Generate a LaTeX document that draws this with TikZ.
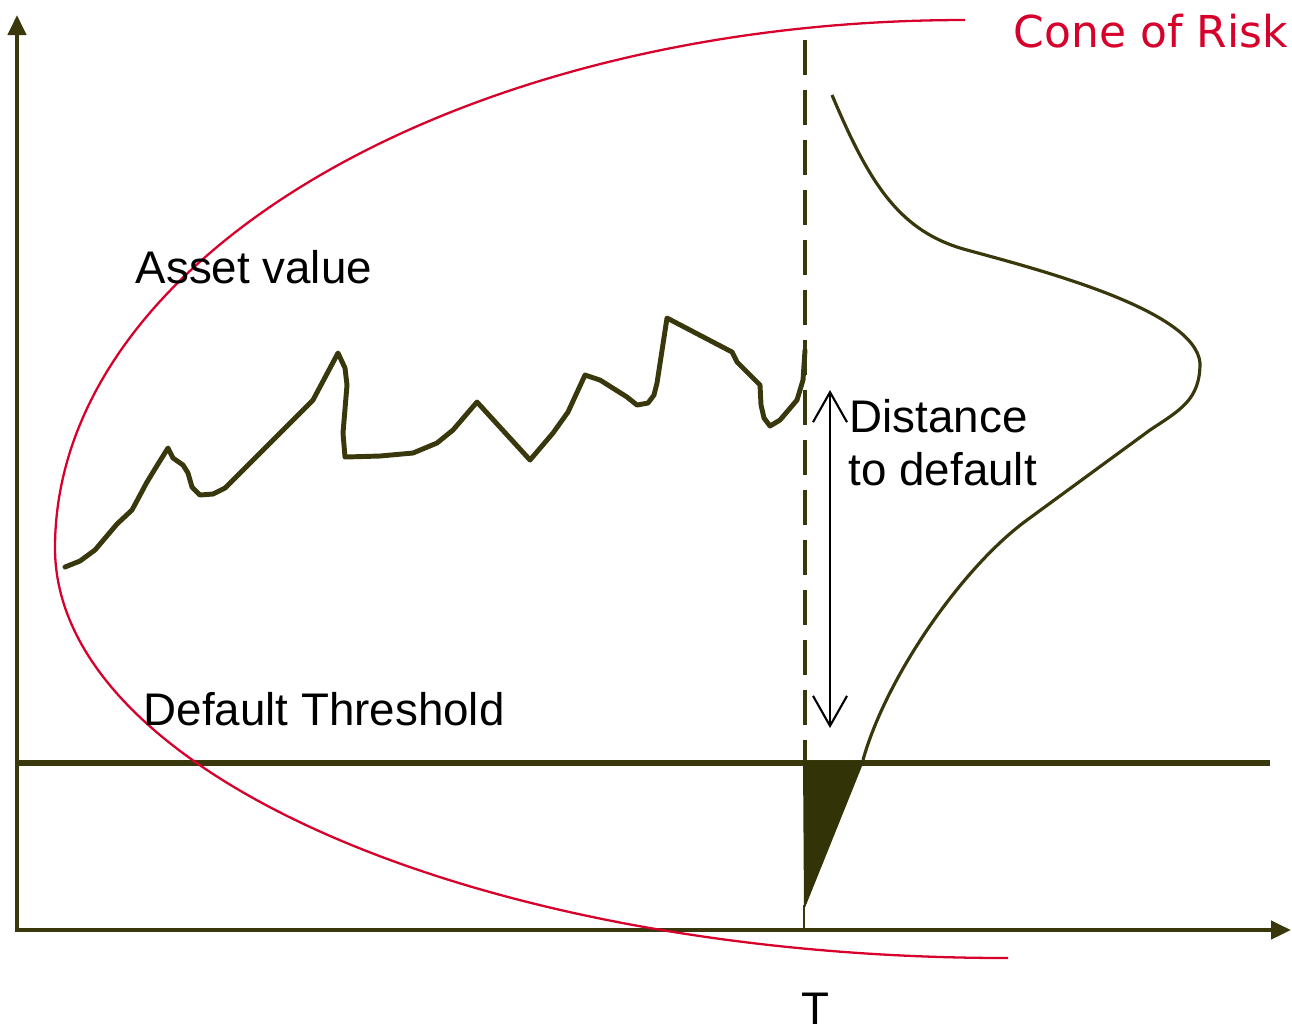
\documentclass[tikz,border=0pt]{standalone}
\usepackage{fontspec}
\setmainfont{Liberation Sans}
\newfontfamily\conefont{DejaVu Sans}
\usetikzlibrary{arrows.meta,positioning}
\definecolor{cOlive}{HTML}{38380C}
\definecolor{cDark}{HTML}{333308}
\definecolor{cRed}{HTML}{D6002B}
\tikzset{
  axisline/.style={{Triangle[length=0.2cm,width=0.18cm]}-{Triangle[length=0.2cm,width=0.18cm]},line width=1.2pt,color=cOlive,line join=miter},
  thresh/.style={line width=1.45pt,color=cOlive},
  vdash/.style={line width=1.2pt,color=cOlive,dash pattern=on 0.35cm off 0.15cm},
  pathline/.style={line width=1.4pt,color=cOlive,line join=round,line cap=round},
  dens/.style={line width=0.9pt,color=cOlive},
  cone/.style={line width=0.65pt,color=cRed},
  dtd/.style={{Straight Barb[length=0.3cm,width=0.34cm]}-{Straight Barb[length=0.3cm,width=0.34cm]},line width=0.6pt,color=black},
  lbl/.style={font=\fontsize{13}{15}\selectfont,anchor=base west,inner sep=0pt,text=black},
}
\begin{document}
\begin{tikzpicture}[x=0.01cm,y=-0.01cm]
  \useasboundingbox (0,0) rectangle (1292,1032);
  % axes
  \coordinate (origin) at (17,930);
  \coordinate (ytip) at (17,15);
  \coordinate (xtip) at (1291,930);
  \draw[axisline] (ytip) -- (origin) -- (xtip);
  % default threshold
  \coordinate (thL) at (17,763);
  \coordinate (thR) at (1270,763);
  \draw[thresh] (thL) -- (thR);
  % horizon T
  \coordinate (dashTop) at (805,40);
  \coordinate (dashBot) at (805,760);
  \draw[vdash] (dashTop) -- (dashBot);
  \fill[cDark] (803,761) -- (864,761) -- (804,910) -- cycle;
  \coordinate (tailBot) at (804,930);
  \draw[line width=0.8pt,color=cOlive] (804,905) -- (tailBot);
  % asset value path
  \draw[pathline] plot coordinates {(65,567) (80,561) (95,550) (117,524) (132,510) (147,482)
    (158,464) (168,448) (173,458) (183,465) (188,473) (192,487) (200,495) (213,494) (225,488)
    (313,400) (338,353) (345,368) (347,385) (343,433) (345,457) (380,456) (413,453) (437,443)
    (453,430) (477,402) (530,460) (553,433) (568,412) (585,375) (600,380) (627,397) (637,405)
    (648,403) (654,395) (657,383) (667,318) (732,352) (737,362) (760,385) (761,405) (764,418)
    (770,426) (780,420) (797,400) (803,380) (805,350)};
  % distribution at T
  \coordinate (densTop) at (832,95);
  \coordinate (densPeak) at (1200,363);
  \coordinate (densFoot) at (863,760);
  \draw[dens] (densTop) .. controls (870,185) and (900,232) .. (967,250)
    .. controls (1040,270) and (1195,310) .. (densPeak)
    .. controls (1200,400) and (1180,410) .. (1150,430) -- (1027,520)
    .. controls (960,569) and (885,680) .. (densFoot);
  % distance to default
  \coordinate (dtdTop) at (830,390);
  \coordinate (dtdBot) at (830,728);
  \draw[dtd] (dtdTop) -- (dtdBot);
  % cone of risk
  \coordinate (coneTop) at (965,20);
  \coordinate (coneLeft) at (55,548);
  \coordinate (coneBot) at (1008,958);
  \draw[cone] (coneTop) .. controls (462,20) and (55,256) .. (coneLeft)
    .. controls (55,774) and (482,958) .. (coneBot);
  % labels
  \node[lbl] (asset) at (135,283) {Asset value};
  \node[lbl] (thresh) at (143,725) {Default Threshold};
  \node[lbl] (dist1) at (849,432) {Distance};
  \node[lbl] (dist2) at (848,485) {to default};
  \node[lbl,anchor=base] (tlab) at (815,1024) {T};
  \node[lbl,text=cRed,font=\conefont\fontsize{12.5}{15}\selectfont] (conelab) at (1013,47) {Cone of Risk};
\end{tikzpicture}
\end{document}
